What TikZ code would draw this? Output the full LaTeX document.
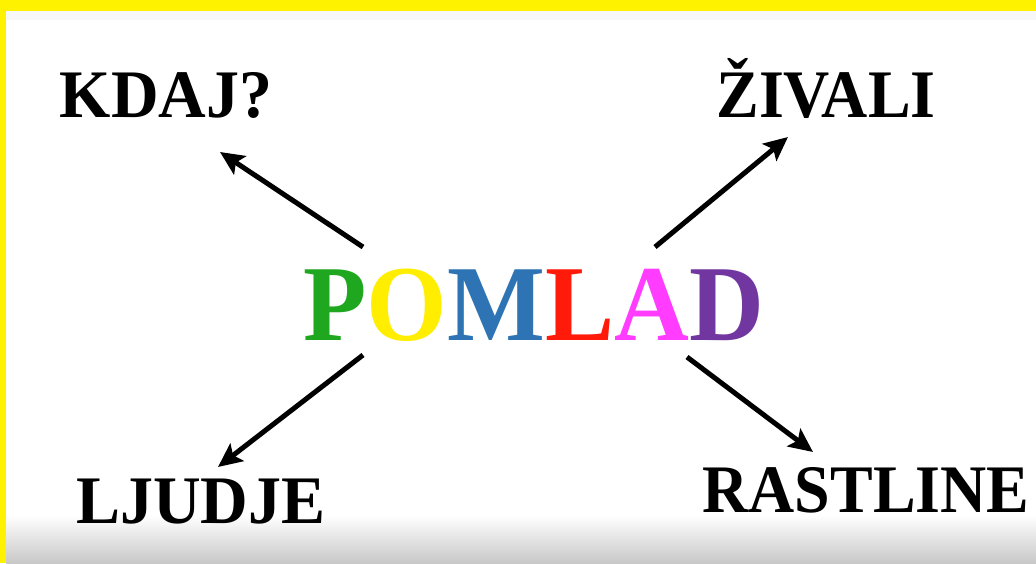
\documentclass[tikz,border=0pt]{standalone}
\usepackage{fontspec}
\setmainfont{Liberation Serif}
\usetikzlibrary{arrows.meta}
\definecolor{pgreen}{HTML}{1FA81F}
\definecolor{pyellow}{HTML}{FFEE00}
\definecolor{pblue}{HTML}{2E74B5}
\definecolor{pred}{HTML}{FF1A0A}
\definecolor{pmag}{HTML}{FF3CFF}
\definecolor{ppurp}{HTML}{7236A0}
\definecolor{bandgray}{HTML}{F7F7F7}
\definecolor{botgray}{HTML}{C8C8C8}
\tikzset{
  word/.style={anchor=base, inner sep=0pt, text=black, font=\bfseries\fontsize{68}{68}\selectfont},
  title/.style={anchor=base, inner sep=0pt, font=\bfseries\fontsize{108}{108}\selectfont},
  arr/.style={line width=5pt, -{Stealth[length=24pt,width=22pt,inset=5pt]}, black}
}
\begin{document}
\begin{tikzpicture}[x=1pt,y=-1pt]
\useasboundingbox (0,0) rectangle (1036,563);
% background
\fill[white] (0,0) rectangle (1036,563);
\fill[bandgray] (6,11) rectangle (1036,20);
\shade[top color=white, bottom color=botgray] (6,515) rectangle (1036,563);
\fill[yellow] (0,0) rectangle (1036,11);
\fill[yellow] (0,0) rectangle (6,563);
% words
\node[title] (pomlad) at (534,340) {\scalebox{0.96}[1]{\textcolor{pgreen}{P}\textcolor{pyellow}{O}\textcolor{pblue}{M}\textcolor{pred}{L}\textcolor{pmag}{A}\textcolor{ppurp}{D}}};
\node[word] (kdaj) at (166,117) {\scalebox{0.97}[1]{KDAJ?}};
\node[word] (zivali) at (826,117) {\scalebox{0.94}[1]{ŽIVALI}};
\node[word] (ljudje) at (201,523) {\scalebox{0.97}[1]{LJUDJE}};
\node[word] (rastline) at (866,512) {\scalebox{0.94}[1]{RASTLINE}};
% arrow ends
\coordinate (t1) at (363,247); \coordinate (h1) at (220,152);
\coordinate (t2) at (655,247); \coordinate (h2) at (788,137);
\coordinate (t3) at (363,355); \coordinate (h3) at (218,467);
\coordinate (t4) at (687,357); \coordinate (h4) at (813,452);
\draw[arr] (t1) -- (h1);
\draw[arr] (t2) -- (h2);
\draw[arr] (t3) -- (h3);
\draw[arr] (t4) -- (h4);
\end{tikzpicture}
\end{document}
